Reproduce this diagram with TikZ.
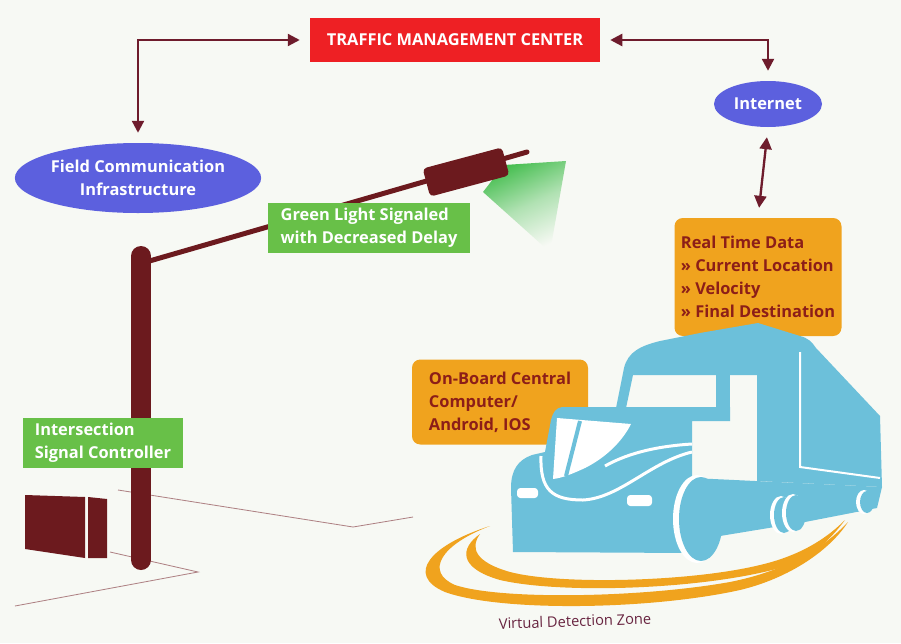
\documentclass[tikz,border=0pt]{standalone}
\usepackage{fontspec}
\setmainfont{Open Sans}
\usetikzlibrary{arrows.meta,shapes.geometric}

\pgfdeclarelayer{back}
\pgfsetlayers{back,main}

\definecolor{bgpaper}{RGB}{247,249,244}
\definecolor{tmcred}{RGB}{238,32,36}
\definecolor{ovalblue}{RGB}{92,96,222}
\definecolor{lblgreen}{RGB}{104,192,72}
\definecolor{boxorange}{RGB}{240,163,30}
\definecolor{txtred}{RGB}{140,30,24}
\definecolor{linkmaroon}{RGB}{110,28,44}
\definecolor{polemaroon}{RGB}{108,26,30}
\definecolor{truckblue}{RGB}{108,192,218}
\definecolor{conegreen}{RGB}{70,190,80}
\definecolor{zonetext}{RGB}{104,36,64}

\tikzset{
  labelfont/.style={font=\bfseries\fontsize{14}{19.5}\selectfont},
  tmcbox/.style={labelfont, fill=tmcred, text=white, minimum width=8.7cm, minimum height=1.32cm},
  netoval/.style={ellipse, labelfont, fill=ovalblue, text=white, align=center, inner sep=0pt},
  greenbox/.style={labelfont, fill=lblgreen, text=white, align=left, inner sep=0.1cm},
  databox/.style={labelfont, fill=boxorange, text=txtred, align=left, rounded corners=0.25cm, inner sep=0.1cm},
  link/.style={draw=linkmaroon, line width=0.07cm,
    {Triangle[length=0.36cm,width=0.36cm]}-{Triangle[length=0.36cm,width=0.36cm]},
    shorten <=0.3cm, shorten >=0.3cm},
  pole/.style={draw=polemaroon, line cap=round},
  ground/.style={draw=polemaroon!55, line width=0.7pt},
  truck/.style={fill=truckblue},
  swoosh/.style={fill=boxorange}
}

\begin{document}
\begin{tikzpicture}[x=0.03cm, y=-0.03cm]

    % Paper
    \begin{pgfonlayer}{back}
      \fill[bgpaper] (0,0) rectangle (901,643);
    \end{pgfonlayer}
    \useasboundingbox (0,0) rectangle (901,643);

    % Control center and networks
    \node[tmcbox] (tmc) at (455,40) {TRAFFIC MANAGEMENT CENTER};
    \node[netoval, minimum width=3.24cm, minimum height=1.38cm] (internet) at (768,104) {Internet};
    \node[netoval, minimum width=7.2cm, minimum height=2.1cm] (fieldcom) at (138,178)
      {Field Communication\\Infrastructure};

    % Links to the center
    \draw[link] (tmc.west) -| (fieldcom.north);
    \draw[link] (tmc.east) -| (internet.north);

    % Ground lines of the intersection
    \draw[ground] (118,490) -- (353,527) -- (413,517);
    \draw[ground] (110,552) -- (198,572) -- (15,606);

    % Controller cabinet
    \fill[polemaroon] (25,495) -- (85,497) -- (85,558) -- (25,549) -- cycle;
    \fill[polemaroon] (88,497) -- (107,499) -- (107,558) -- (88,558) -- cycle;

    % Light beam
    \shade[top color=conegreen, bottom color=bgpaper, middle color=conegreen!40!bgpaper,
      shading angle=25]
      (483,192) -- (504,165) -- (566,161) -- (550,252) -- cycle;

    % Signal pole, arm and head
    \draw[pole, line width=0.6cm] (141,256) -- (141,560);
    \draw[pole, line width=0.15cm] (146,262) -- (527,152);
    \node[fill=polemaroon, rounded corners=0.12cm, rotate=15, minimum width=2.46cm,
      minimum height=0.87cm, inner sep=0pt] (head) at (466,172) {};

    % Signal labels
    \node[greenbox, minimum width=6.06cm, minimum height=1.5cm] (greenlight) at (369,228)
      {Green Light Signaled\\with Decreased Delay};
    \node[greenbox, minimum width=4.8cm, minimum height=1.5cm] (isc) at (103,443)
      {Intersection\\Signal Controller};
    \begin{pgfonlayer}{back}
      \fill[lblgreen] (isc.south west) rectangle (isc.north east);
    \end{pgfonlayer}

    % Vehicle data
    \node[databox, minimum width=5.01cm, minimum height=3.54cm] (rtdata) at (758,277)
      {Real Time Data\\» Current Location\\» Velocity\\» Final Destination};
    \node[databox, minimum width=5.28cm, minimum height=2.55cm] (onboard) at (500,402)
      {On-Board Central\\Computer/\\Android, IOS};
    \draw[link] (internet.south) -- (rtdata.north);

    % Detection zone swooshes
    \fill[swoosh] (490,526) .. controls (430,545) and (405,575) .. (445,592)
      .. controls (500,612) and (650,610) .. (740,590)
      .. controls (790,578) and (830,550) .. (848,522)
      .. controls (820,552) and (780,572) .. (730,582)
      .. controls (640,598) and (500,600) .. (455,585)
      .. controls (425,572) and (440,545) .. (490,526) -- cycle;
    \fill[swoosh] (480,534) .. controls (460,548) and (458,568) .. (500,580)
      .. controls (560,594) and (700,590) .. (780,568)
      .. controls (810,560) and (830,540) .. (845,520)
      .. controls (820,545) and (790,558) .. (760,565)
      .. controls (690,582) and (560,585) .. (510,572)
      .. controls (475,562) and (470,548) .. (480,534) -- cycle;
    \node[font=\fontsize{12.5}{14}\selectfont, text=zonetext, rotate=2] (vdz) at (575,621)
      {Virtual Detection Zone};

    % Truck: trailer and roof fairing
    \fill[truck] (616,408) -- (624,368) .. controls (628,352) and (640,346) .. (660,341)
      -- (700,333) -- (758,323) -- (800,336) .. controls (808,338) and (812,342) .. (816,348)
      -- (880,416) -- (882,487) -- (757,481) -- (757,375) -- (633,375) -- (626,408) -- cycle;
    \fill[truck] (716,372) rectangle (730,421);
    \draw[white, line width=0.06cm] (800,352) -- (800,467) -- (880,478);

    % Truck: cab, hood and chassis
    \fill[truck] (513,552) -- (511,488) .. controls (511,470) and (518,460) .. (532,455)
      -- (545,452) -- (551,420) .. controls (553,412) and (556,408) .. (562,407)
      -- (730,407) -- (730,421) -- (692,421) -- (692,478) -- (882,487) -- (877,508)
      -- (805,522) -- (720,536) -- (690,553) -- cycle;

    % Truck: wheels
    \fill[white] (697,519) ellipse (24 and 44);
    \fill[truck] (701,519) ellipse (22 and 42);
    \fill[white] (781,515) ellipse (11 and 19);
    \fill[truck] (784,515) ellipse (10 and 18);
    \fill[white] (793,513) ellipse (11 and 19);
    \fill[truck] (796,513) ellipse (10 and 18);
    \fill[white] (864,502) ellipse (8 and 12);
    \fill[truck] (867,502) ellipse (7 and 11);

    % Truck: windshield, body lines and lights
    \fill[white] (557,418) -- (631,424) .. controls (622,442) and (605,458) .. (585,468)
      .. controls (572,474) and (562,478) .. (553,479) -- cycle;
    \draw[truckblue, line width=0.12cm] (580,421) -- (566,476);
    \draw[white, line width=0.09cm] (541,456) .. controls (540,490) and (552,500) .. (583,500)
      .. controls (620,498) and (650,462) .. (692,452);
    \draw[white, line width=0.09cm] (605,466) .. controls (630,452) and (660,446) .. (692,444);
    \fill[white, rounded corners=0.1cm] (517,488) rectangle (538,498);
    \fill[white, rounded corners=0.1cm] (627,495) rectangle (652,506);

\end{tikzpicture}
\end{document}
